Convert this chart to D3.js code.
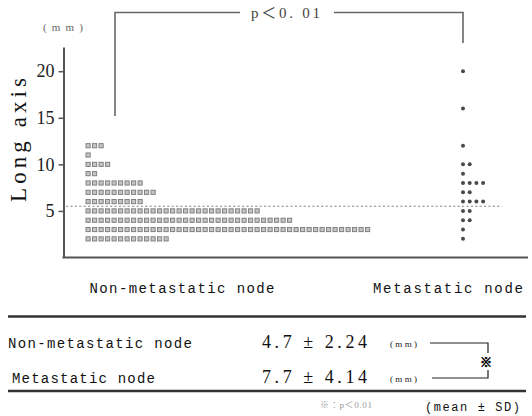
<!DOCTYPE html>
<html>
<head>
<meta charset="utf-8">
<script src="https://cdn.jsdelivr.net/npm/d3@7"></script>
<style>
  html, body { margin: 0; padding: 0; background: #fff; }
  svg { display: block; }
  .serif { font-family: "Liberation Serif", "DejaVu Serif", "Noto Sans CJK JP", serif; }
  .mono { font-family: "Liberation Mono", "DejaVu Sans Mono", "Noto Sans CJK JP", monospace; }
</style>
</head>
<body>
<svg id="chart" width="532" height="416"></svg>
<script>
// Lymph node long-axis diameter (mm), one mark per node
const categories = ["Non-metastatic node", "Metastatic node"];

// Non-metastatic nodes: measured size and number of nodes at that size
const nonMetSizes  = [12, 11, 10, 9, 8, 7, 6, 5, 4, 3, 2];
const nonMetCounts = [3, 1, 4, 2, 9, 11, 9, 27, 32, 44, 13];

// Metastatic nodes
const metSizes  = [20, 16, 12, 10, 9, 8, 7, 6, 5, 4, 3, 2];
const metCounts = [1, 1, 1, 2, 1, 4, 2, 4, 2, 2, 1, 1];

const yTicks = [5, 10, 15, 20];
const cutoff = 5.5;

// Summary table (mean ± SD)
const summaryMeans = [4.7, 7.7];
const summarySDs = [2.24, 4.14];

const svg = d3.select("#chart");

const y = d3.scaleLinear().domain([0, 22.6]).range([257.5, 47]);
const stripStart = d3.scalePoint().domain(categories).range([88, 463]);
const labelCenter = d3.scaleOrdinal().domain(categories).range([182, 448]);

// expand size/count pairs into one record per node
function expand(sizes, counts, cat) {
  const out = [];
  sizes.forEach((s, k) => {
    for (let i = 0; i < counts[k]; i++) out.push({ size: s, index: i, cat });
  });
  return out;
}
const nonMet = expand(nonMetSizes, nonMetCounts, categories[0]);
const met = expand(metSizes, metCounts, categories[1]);

// ---- y axis ----
const yAxis = d3.axisLeft(y).tickValues(yTicks).tickSize(5).tickSizeOuter(0).tickPadding(4);
const gy = svg.append("g").attr("transform", "translate(63.5,0)").call(yAxis);
gy.select(".domain").attr("stroke", "#555").attr("stroke-width", 2);
gy.selectAll(".tick line").attr("stroke", "#555").attr("stroke-width", 1.5);
gy.selectAll(".tick text")
  .attr("class", "serif")
  .attr("font-size", 18)
  .attr("fill", "#222");

// x baseline
svg.append("line")
  .attr("x1", 62.5).attr("x2", 528)
  .attr("y1", y(0)).attr("y2", y(0))
  .attr("stroke", "#555").attr("stroke-width", 2.2);

// axis title + unit
svg.append("text")
  .attr("class", "serif")
  .attr("transform", "translate(26,140) rotate(-90)")
  .attr("text-anchor", "middle")
  .attr("font-size", 23)
  .attr("fill", "#111")
  .attr("textLength", 124).attr("lengthAdjust", "spacing")
  .text("Long axis");

svg.append("text")
  .attr("class", "serif")
  .attr("x", 43).attr("y", 31)
  .attr("font-size", 11)
  .attr("fill", "#666")
  .attr("textLength", 40).attr("lengthAdjust", "spacing")
  .text("(mm)");

// ---- cutoff line ----
svg.append("line")
  .attr("x1", 66).attr("x2", 502)
  .attr("y1", y(cutoff)).attr("y2", y(cutoff))
  .attr("stroke", "#888").attr("stroke-width", 1.1)
  .attr("stroke-dasharray", "2.2,2.2");

// ---- non-metastatic nodes: small squares ----
const sq = 4.2, sqPitch = 6.5;
svg.append("g").selectAll("rect")
  .data(nonMet)
  .join("rect")
  .attr("x", d => stripStart(d.cat) - 2 + d.index * sqPitch)
  .attr("y", d => y(d.size) - sq / 2)
  .attr("width", sq).attr("height", sq)
  .attr("fill", "#c4c4c4")
  .attr("stroke", "#7a7a7a")
  .attr("stroke-width", 0.9);

// ---- metastatic nodes: dots ----
const dotPitch = 6.7;
svg.append("g").selectAll("circle")
  .data(met)
  .join("circle")
  .attr("cx", d => stripStart(d.cat) + d.index * dotPitch)
  .attr("cy", d => y(d.size))
  .attr("r", 2)
  .attr("fill", "#4a4a4a");

// ---- significance bracket ----
const bracket = svg.append("g").attr("stroke", "#666").attr("stroke-width", 1.6).attr("fill", "none");
const bx1 = 115, bx2 = stripStart(categories[1]), by = 12.5;
bracket.append("path").attr("d", `M${bx1},116 V${by} H240`);
bracket.append("path").attr("d", `M334,${by} H${bx2} V43`);
svg.append("text")
  .attr("class", "serif")
  .attr("x", 251).attr("y", 18)
  .attr("font-size", 15)
  .attr("fill", "#444")
  .attr("textLength", 69).attr("lengthAdjust", "spacing")
  .text("p＜0. 01");

// ---- category labels ----
const catWidths = [185, 150];
svg.append("g").selectAll("text")
  .data(categories)
  .join("text")
  .attr("class", "mono")
  .attr("x", (d, i) => labelCenter(d) - catWidths[i] / 2)
  .attr("y", 293)
  .attr("font-size", 14)
  .attr("fill", "#111")
  .attr("textLength", (d, i) => catWidths[i]).attr("lengthAdjust", "spacing")
  .text(d => d);

// ---- summary table ----
const rules = svg.append("g").attr("stroke", "#333").attr("stroke-width", 2.4);
rules.append("line").attr("x1", 8).attr("x2", 526).attr("y1", 316.5).attr("y2", 316.5);
rules.append("line").attr("x1", 8).attr("x2", 526).attr("y1", 391).attr("y2", 391);

const rowY = [348, 383];
const rowX = [8, 12];
const rowW = [184, 143];
categories.forEach((c, i) => {
  svg.append("text")
    .attr("class", "mono")
    .attr("x", rowX[i]).attr("y", rowY[i])
    .attr("font-size", 14).attr("fill", "#111")
    .attr("textLength", rowW[i]).attr("lengthAdjust", "spacing")
    .text(c);
  svg.append("text")
    .attr("class", "serif")
    .attr("x", 262).attr("y", rowY[i])
    .attr("font-size", 18).attr("fill", "#111")
    .attr("textLength", 105).attr("lengthAdjust", "spacing")
    .text(`${summaryMeans[i].toFixed(1)} ± ${summarySDs[i].toFixed(2)}`);
  svg.append("text")
    .attr("class", "serif")
    .attr("x", 390).attr("y", rowY[i] - 1)
    .attr("font-size", 9).attr("fill", "#222")
    .attr("textLength", 27).attr("lengthAdjust", "spacing")
    .text("(mm)");
});

const tb = svg.append("g").attr("stroke", "#222").attr("stroke-width", 1.2).attr("fill", "none");
tb.append("path").attr("d", "M430,343 H488 V353");
tb.append("path").attr("d", "M432,378 H488 V370");
svg.append("text")
  .attr("x", 486).attr("y", 367)
  .attr("text-anchor", "middle")
  .attr("font-family", "Noto Sans CJK JP, sans-serif")
  .attr("font-weight", "bold")
  .attr("font-size", 12).attr("fill", "#000")
  .attr("stroke", "#000").attr("stroke-width", 0.7)
  .text("※");

// footnotes
svg.append("text")
  .attr("class", "serif")
  .attr("x", 320).attr("y", 408)
  .attr("font-size", 9).attr("fill", "#999")
  .attr("textLength", 52).attr("lengthAdjust", "spacing")
  .text("※：p＜0.01");
svg.append("text")
  .attr("class", "mono")
  .attr("x", 425).attr("y", 411)
  .attr("font-size", 12).attr("fill", "#111")
  .attr("textLength", 95).attr("lengthAdjust", "spacing")
  .text("(mean ± SD)");
</script>
</body>
</html>
